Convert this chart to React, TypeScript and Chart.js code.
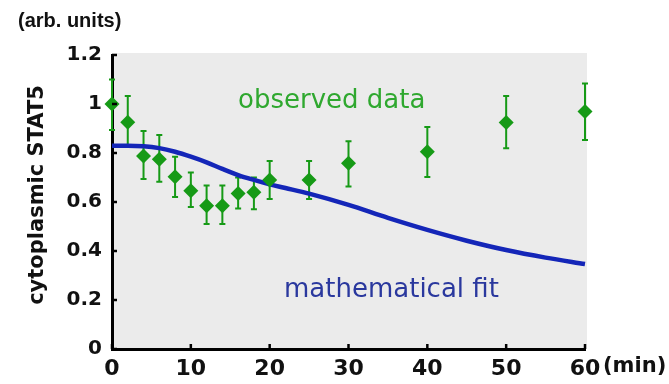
import React, { useEffect, useRef } from "react";
import { Chart, registerables } from "chart.js";

Chart.register(...registerables);

// ---- data ----
const obsTimes = [0, 2, 4, 6, 8, 10, 12, 14, 16, 18, 20, 25, 30, 40, 50, 60];
const obsValues = [1.0, 0.926, 0.788, 0.775, 0.703, 0.646, 0.585, 0.585, 0.635, 0.64, 0.69, 0.69, 0.758, 0.805, 0.925, 0.969];
const obsUpper = [1.1, 1.033, 0.89, 0.873, 0.785, 0.72, 0.667, 0.667, 0.7, 0.7, 0.767, 0.767, 0.848, 0.906, 1.033, 1.084];
const obsLower = [0.894, 0.833, 0.694, 0.683, 0.62, 0.58, 0.51, 0.51, 0.573, 0.57, 0.612, 0.612, 0.663, 0.702, 0.819, 0.853];

const fitTimes = [0, 2, 4, 6, 8, 10, 12, 14, 16, 18, 20, 22, 25, 30, 35, 40, 45, 50, 55, 60];
const fitValues = [0.83, 0.83, 0.828, 0.82, 0.805, 0.785, 0.762, 0.735, 0.71, 0.69, 0.672, 0.657, 0.634, 0.588, 0.535, 0.486, 0.442, 0.404, 0.373, 0.347];

const xTickValues = [0, 10, 20, 30, 40, 50, 60];
const xTickLabels = ["0", "10", "20", "30", "40", "50", "60"];
const yTickValues = [0, 0.2, 0.4, 0.6, 0.8, 1, 1.2];
const yTickLabels = ["0", "0.2", "0.4", "0.6", "0.8", "1", "1.2"];

const yAxisTitle = "cytoplasmic STAT5";
const yUnitLabel = "(arb. units)";
const xUnitLabel = "(min)";
const observedLabel = "observed data";
const fitLabel = "mathematical fit";

// ---- colours ----
const GREEN = "#169a16";
const GREEN_TEXT = "#2fa82f";
const BLUE = "#1426b8";
const BLUE_TEXT = "#2a389e";
const PLOT_BG = "#ebebeb";

const bgPlugin = {
  id: "plotBg",
  beforeDraw(chart: any) {
    const { ctx, chartArea } = chart;
    ctx.save();
    ctx.fillStyle = PLOT_BG;
    ctx.fillRect(chartArea.left, chartArea.top - 2, chartArea.right - chartArea.left + 2, chartArea.bottom - chartArea.top + 2);
    ctx.restore();
  },
};

const errorBarPlugin = {
  id: "errorBars",
  beforeDatasetsDraw(chart: any) {
    const { ctx } = chart;
    const xs = chart.scales.x;
    const ys = chart.scales.y;
    ctx.save();
    ctx.strokeStyle = GREEN;
    ctx.lineWidth = 2;
    obsTimes.forEach((t, i) => {
      const px = xs.getPixelForValue(t);
      const pTop = ys.getPixelForValue(obsUpper[i]);
      const pBot = ys.getPixelForValue(obsLower[i]);
      ctx.beginPath();
      ctx.moveTo(px, pTop);
      ctx.lineTo(px, pBot);
      ctx.moveTo(px - 3, pTop);
      ctx.lineTo(px + 3, pTop);
      ctx.moveTo(px - 3, pBot);
      ctx.lineTo(px + 3, pBot);
      ctx.stroke();
    });
    ctx.restore();
  },
};

const decorPlugin = {
  id: "decor",
  afterDraw(chart: any) {
    const { ctx, chartArea } = chart;
    const xs = chart.scales.x;
    const ys = chart.scales.y;
    ctx.save();
    // inward ticks
    ctx.strokeStyle = "#000";
    ctx.lineWidth = 2.5;
    yTickValues.forEach((v) => {
      const py = ys.getPixelForValue(v);
      ctx.beginPath();
      ctx.moveTo(chartArea.left, py);
      ctx.lineTo(chartArea.left + 5, py);
      ctx.stroke();
    });
    xTickValues.forEach((v) => {
      const px = xs.getPixelForValue(v);
      ctx.beginPath();
      ctx.moveTo(px, chartArea.bottom);
      ctx.lineTo(px, chartArea.bottom - 5);
      ctx.stroke();
    });

    // y-axis title
    ctx.fillStyle = "#111";
    ctx.font = "bold 21px 'DejaVu Sans'";
    ctx.save();
    ctx.translate(38, 195);
    ctx.rotate(-Math.PI / 2);
    ctx.textAlign = "center";
    ctx.textBaseline = "middle";
    ctx.fillText(yAxisTitle, 0, 0);
    ctx.restore();

    // unit labels
    ctx.textAlign = "left";
    ctx.textBaseline = "middle";
    ctx.font = "bold 20px 'Liberation Sans'";
    ctx.fillText(yUnitLabel, 18, 21);
    ctx.font = "bold 21px 'DejaVu Sans'";
    ctx.fillText(xUnitLabel, 603, 367);

    // annotations
    ctx.textBaseline = "alphabetic";
    ctx.font = "26px 'DejaVu Sans'";
    ctx.fillStyle = GREEN_TEXT;
    ctx.fillText(observedLabel, 238, 108);
    ctx.font = "26px 'DejaVu Sans'";
    ctx.fillStyle = BLUE_TEXT;
    ctx.fillText(fitLabel, 284, 297);
    ctx.restore();
  },
};

export default function App() {
  const canvasRef = useRef<HTMLCanvasElement | null>(null);

  useEffect(() => {
    const canvas = canvasRef.current;
    if (!canvas) return;
    const chart = new Chart(canvas, {
      type: "scatter",
      data: {
        datasets: [
          {
            label: observedLabel,
            data: obsTimes.map((t, i) => ({ x: t, y: obsValues[i] })),
            pointStyle: "rectRot",
            pointRadius: 7.5,
            pointHoverRadius: 7.5,
            backgroundColor: GREEN,
            borderColor: GREEN,
            borderWidth: 0,
            showLine: false,
            clip: false,
            order: 0,
          } as any,
          {
            label: fitLabel,
            data: fitTimes.map((t, i) => ({ x: t, y: fitValues[i] })),
            showLine: true,
            pointRadius: 0,
            borderColor: BLUE,
            borderWidth: 4.5,
            cubicInterpolationMode: "monotone",
            fill: false,
            clip: false,
            order: 1,
          } as any,
        ],
      },
      options: {
        animation: false,
        responsive: false,
        devicePixelRatio: 1,
        layout: { padding: { left: 0, top: 55, right: 84, bottom: 0 } },
        plugins: {
          legend: { display: false },
          tooltip: { enabled: false },
          title: { display: false },
        },
        scales: {
          x: {
            type: "linear",
            min: 0,
            max: 60,
            afterBuildTicks: (s: any) => {
              s.ticks = xTickValues.map((v) => ({ value: v }));
            },
            afterFit: (s: any) => {
              s.height = 35;
            },
            grid: { display: false, drawTicks: false },
            border: { display: true, color: "#000", width: 3 },
            ticks: {
              padding: 7,
              color: "#111",
              font: { family: "'DejaVu Sans'", size: 22, weight: "bold" },
              maxRotation: 0,
              autoSkip: false,
              callback: (v: any) => {
                const i = xTickValues.indexOf(Number(v));
                return i >= 0 ? xTickLabels[i] : "";
              },
            },
          },
          y: {
            type: "linear",
            min: 0,
            max: 1.2,
            afterBuildTicks: (s: any) => {
              s.ticks = yTickValues.map((v) => ({ value: v }));
            },
            afterFit: (s: any) => {
              s.width = 112;
            },
            grid: { display: false, drawTicks: false },
            border: { display: true, color: "#000", width: 3 },
            ticks: {
              padding: 10,
              color: "#111",
              font: { family: "'DejaVu Sans'", size: 20, weight: "bold" },
              autoSkip: false,
              callback: (v: any) => {
                const i = yTickValues.findIndex((t) => Math.abs(t - Number(v)) < 1e-6);
                return i >= 0 ? yTickLabels[i] : "";
              },
            },
          },
        },
      },
      plugins: [bgPlugin, errorBarPlugin, decorPlugin],
    });
    return () => chart.destroy();
  }, []);

  return (
    <div style={{ position: "fixed", left: 0, top: 0, width: 669, height: 384, background: "#fff" }}>
      <canvas ref={canvasRef} width={669} height={384} style={{ display: "block", width: 669, height: 384 }} />
    </div>
  );
}
